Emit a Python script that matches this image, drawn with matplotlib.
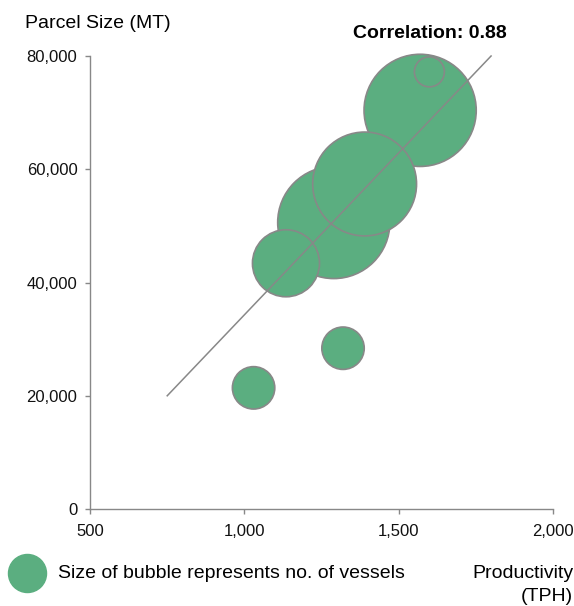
import matplotlib.pyplot as plt
from matplotlib.ticker import FuncFormatter

plt.rcParams['font.family'] = ['Liberation Sans', 'DejaVu Sans']

# データ
productivity = [1570, 1600, 1290, 1390, 1135, 1030, 1320]   # TPH
parcel_size = [70400, 77200, 50600, 57400, 43400, 21400, 28400]  # MT
vessels = [14, 1, 14, 12, 5, 2, 2]

trend_x = [750, 1800]
trend_y = [20000, 80000]
correlation = 0.88

xticks = [500, 1000, 1500, 2000]
yticks = [0, 20000, 40000, 60000, 80000]

green = '#5BAE80'
gray = '#888888'

fig = plt.figure(figsize=(5.74, 6.06), dpi=100)
ax = fig.add_axes([0.157, 0.16, 0.806, 0.7476])

ax.scatter(productivity, parcel_size, s=[v * 466 for v in vessels],
           color=green, edgecolor=gray, linewidth=1.2, zorder=2, clip_on=False)
ax.plot(trend_x, trend_y, color=gray, linewidth=1.1, zorder=3, clip_on=False)

ax.set_xlim(500, 2000)
ax.set_ylim(0, 80000)
ax.set_xticks(xticks)
ax.set_yticks(yticks)
ax.xaxis.set_major_formatter(FuncFormatter(lambda v, p: f'{int(v):,}'))
ax.yaxis.set_major_formatter(FuncFormatter(lambda v, p: f'{int(v):,}'))
ax.tick_params(axis='both', direction='out', length=3.6, width=1, color=gray,
               labelsize=12, labelcolor='#111111')
ax.tick_params(axis='x', pad=7)
ax.tick_params(axis='y', pad=5.5)

for side in ['top', 'right']:
    ax.spines[side].set_visible(False)
for side in ['left', 'bottom']:
    ax.spines[side].set_color(gray)
    ax.spines[side].set_linewidth(1)

fig.text(25 / 574, 1 - 23 / 606, 'Parcel Size (MT)', fontsize=14,
         ha='left', va='center')
fig.text(430 / 574, 1 - 34 / 606, f'Correlation: {correlation:.2f}',
         fontsize=14, fontweight='bold', ha='center', va='center')
fig.text(573 / 574, 1 - 585 / 606, 'Productivity\n(TPH)', fontsize=14,
         ha='right', va='center', multialignment='right', linespacing=1.45)

# 凡例の丸
ax.scatter([27 / 574], [1 - 573 / 606], s=750, color=green,
           transform=fig.transFigure, clip_on=False)
fig.text(58 / 574, 1 - 574 / 606, 'Size of bubble represents no. of vessels',
         fontsize=14, ha='left', va='center')

plt.savefig('out.png', dpi=100)
